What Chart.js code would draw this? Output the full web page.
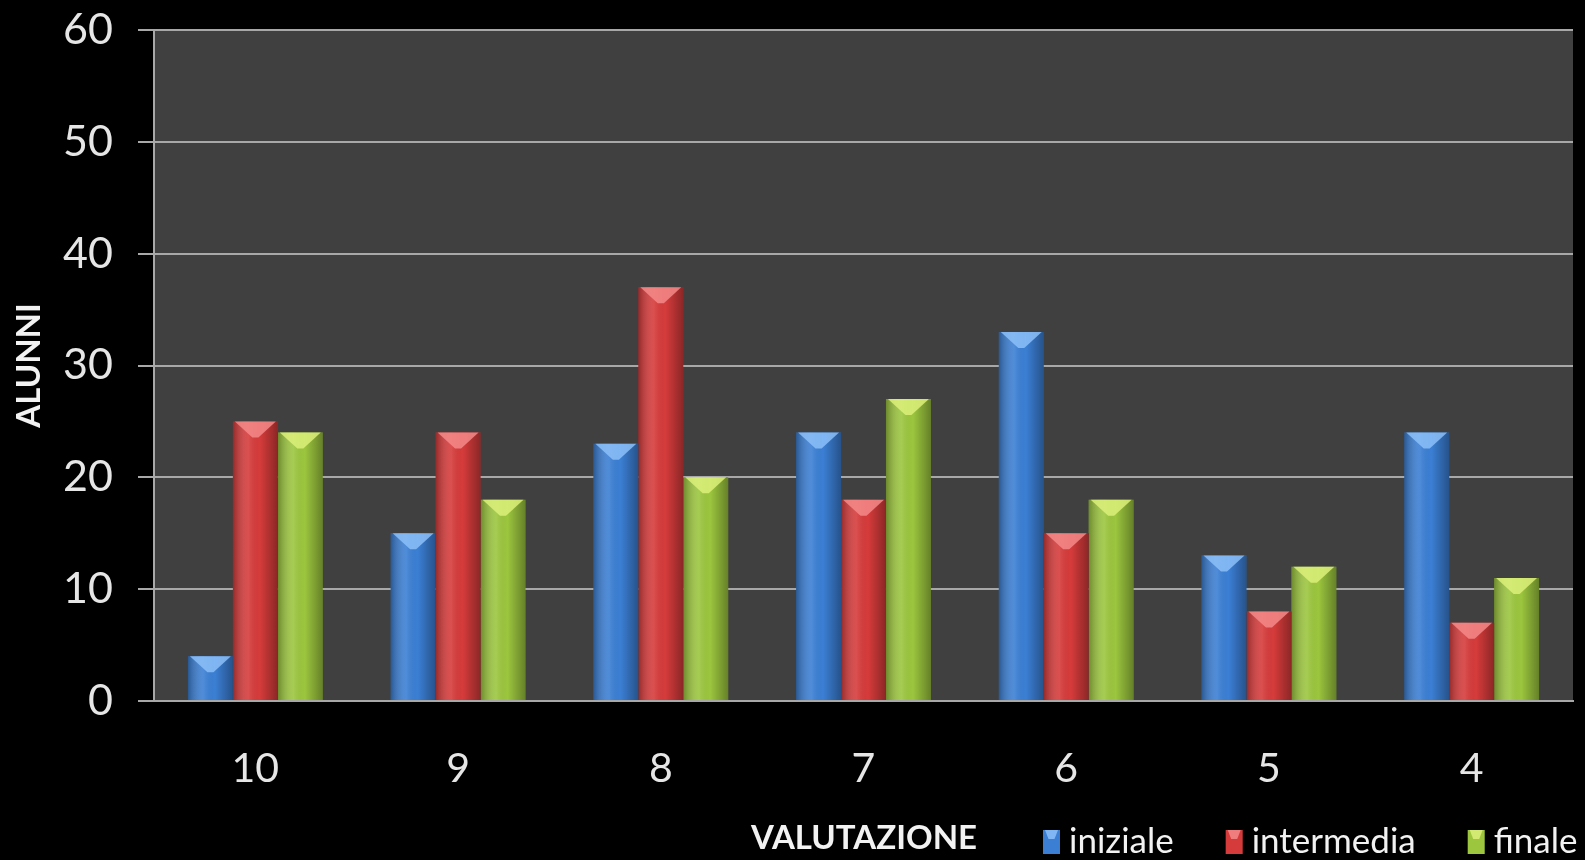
<!DOCTYPE html>
<html>
<head>
<meta charset="utf-8">
<script src="https://cdn.jsdelivr.net/npm/chart.js@4.4.0/dist/chart.umd.min.js"></script>
<style>
  html, body { margin: 0; padding: 0; background: #000; }
  #wrap { width: 1585px; height: 860px; }
</style>
</head>
<body>
<div id="wrap"><canvas id="grafico" width="1585" height="860"></canvas></div>
<script>
// dati
const valutazioni = ['10', '9', '8', '7', '6', '5', '4'];
const iniziale   = [4, 15, 23, 24, 33, 13, 24];
const intermedia = [25, 24, 37, 18, 15, 8, 7];
const finale     = [24, 18, 20, 27, 18, 12, 11];

const colori = {
    iniziale:   { base: '#3b7fd4', cap: '#8cc0f8' },
    intermedia: { base: '#d63b3b', cap: '#f58a8a' },
    finale:     { base: '#9cc63e', cap: '#dcf07a' }
};

const font = "Lato, 'Open Sans', sans-serif";

// sfondo grigio dell'area del grafico
const sfondoArea = {
    id: 'sfondoArea',
    beforeDraw(chart) {
        const { ctx, chartArea: a } = chart;
        ctx.save();
        ctx.fillStyle = '#404040';
        ctx.fillRect(a.left, a.top, a.right - a.left, a.bottom - a.top);
        ctx.restore();
    }
};

function disegnaPunta(ctx, l, r, top, h, colore) {
    const cx = (l + r) / 2;
    ctx.save();
    ctx.fillStyle = colore;
    ctx.globalAlpha = 0.85;
    ctx.beginPath();
    ctx.moveTo(l + 2, top);
    ctx.lineTo(r - 2, top);
    ctx.lineTo(cx + 3, top + h);
    ctx.lineTo(cx - 3, top + h);
    ctx.closePath();
    ctx.fill();
    ctx.restore();
}

// effetto rilievo sulle barre (sfumatura + punta chiara in alto)
const rilievo = {
    id: 'rilievo',
    afterDatasetsDraw(chart) {
        const ctx = chart.ctx;
        chart.data.datasets.forEach((ds, i) => {
            const meta = chart.getDatasetMeta(i);
            meta.data.forEach(bar => {
                const w = bar.width, l = bar.x - w / 2, r = bar.x + w / 2;
                const top = bar.y, base = bar.base;
                const g = ctx.createLinearGradient(l, 0, r, 0);
                g.addColorStop(0, 'rgba(0,0,0,0.30)');
                g.addColorStop(0.35, 'rgba(255,255,255,0.10)');
                g.addColorStop(0.6, 'rgba(0,0,0,0)');
                g.addColorStop(1, 'rgba(0,0,0,0.35)');
                ctx.save();
                ctx.fillStyle = g;
                ctx.fillRect(l, top, w, base - top);
                ctx.restore();
                disegnaPunta(ctx, l, r, top, Math.min(16, base - top), ds.capColor);
            });
        });
    }
};

// titolo asse x e legenda sulla stessa riga in basso
const rigaBasso = {
    id: 'rigaBasso',
    afterDraw(chart) {
        const ctx = chart.ctx;
        const y = 842;
        ctx.save();
        ctx.fillStyle = '#f2f2f2';
        ctx.textBaseline = 'middle';
        ctx.font = "bold 33px " + font;
        ctx.textAlign = 'center';
        ctx.fillText('VALUTAZIONE', 864, y - 4);

        ctx.font = "35px " + font;
        ctx.textAlign = 'left';
        let x = 1043;
        chart.data.datasets.forEach(ds => {
            ctx.fillStyle = ds.backgroundColor;
            ctx.fillRect(x, y - 12, 17, 24);
            disegnaPunta(ctx, x, x + 17, y - 12, 9, ds.capColor);
            ctx.fillStyle = '#f2f2f2';
            ctx.fillText(ds.label, x + 26, y);
            x += 26 + ctx.measureText(ds.label).width + 52;
        });
        ctx.restore();
    }
};

function creaGrafico() {
    const ctx = document.getElementById('grafico').getContext('2d');
    new Chart(ctx, {
        type: 'bar',
        data: {
            labels: valutazioni,
            datasets: [
                { label: 'iniziale', data: iniziale, backgroundColor: colori.iniziale.base, capColor: colori.iniziale.cap },
                { label: 'intermedia', data: intermedia, backgroundColor: colori.intermedia.base, capColor: colori.intermedia.cap },
                { label: 'finale', data: finale, backgroundColor: colori.finale.base, capColor: colori.finale.cap }
            ]
        },
        options: {
            responsive: false,
            animation: false,
            layout: { padding: { top: 30, right: 12, left: 0, bottom: 0 } },
            datasets: {
                bar: { barPercentage: 1.0, categoryPercentage: 0.665, borderWidth: 0 }
            },
            plugins: {
                tooltip: { enabled: false },
                legend: { display: false }
            },
            scales: {
                x: {
                    grid: { display: false },
                    border: { display: true, color: '#a8a8a8', width: 2 },
                    ticks: { color: '#e6e6e6', font: { family: font, size: 41 }, padding: 35 },
                    afterFit(scale) { scale.height = 159; scale.paddingLeft = 0; scale.paddingRight = 0; }
                },
                y: {
                    min: 0,
                    max: 60,
                    ticks: { stepSize: 10, color: '#e6e6e6', font: { family: font, size: 43 }, padding: 25 },
                    grid: { color: '#a8a8a8', lineWidth: 2, tickLength: 16 },
                    border: { display: true, color: '#a8a8a8', width: 2 },
                    title: {
                        display: true,
                        text: 'ALUNNI',
                        color: '#f2f2f2',
                        font: { family: font, size: 33, weight: 'bold' },
                        padding: { top: 10, bottom: 0 }
                    },
                    afterFit(scale) { scale.width = 154; scale.paddingTop = 0; scale.paddingBottom = 0; }
                }
            }
        },
        plugins: [sfondoArea, rilievo, rigaBasso]
    });
}

document.addEventListener('DOMContentLoaded', creaGrafico);
</script>
</body>
</html>
